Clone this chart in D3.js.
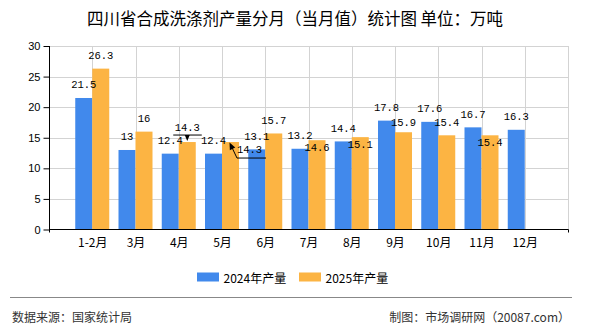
<!DOCTYPE html>
<html>
<head>
<meta charset="utf-8">
<script src="https://cdn.jsdelivr.net/npm/d3@7/dist/d3.min.js"></script>
<style>
  html, body { margin: 0; padding: 0; background: #fff; }
  svg { display: block; }
</style>
</head>
<body>
<svg id="chart" width="590" height="330"></svg>
<script>
// ---- data ----
const months = ["1-2月", "3月", "4月", "5月", "6月", "7月", "8月", "9月", "10月", "11月", "12月"];
const seriesNames = ["2024年产量", "2025年产量"];
const values2024 = [21.5, 13, 12.4, 12.4, 13.1, 13.2, 14.4, 17.8, 17.6, 16.7, 16.3];
const values2025 = [26.3, 16, 14.3, 14.3, 15.7, 14.6, 15.1, 15.9, 15.4, 15.4, null];
const yTicks = [0, 5, 10, 15, 20, 25, 30];
const titleText = "四川省合成洗涤剂产量分月（当月值）统计图 单位：万吨";
const sourceText = "数据来源：国家统计局";
const creditText = "制图：市场调研网（20087.com）";

// ---- layout ----
const colors = ["#4189EC", "#FCB443"];
const svg = d3.select("#chart");
const pLeft = 49, pRight = 568, pTop = 46, pBottom = 229.5;
const barW = 17;
const cjk = "'Noto Sans CJK SC', 'Liberation Sans', sans-serif";
const numFont = "'Liberation Sans', Arial, sans-serif";
const monoFont = "'Liberation Mono', 'DejaVu Sans Mono', monospace";

const x = d3.scalePoint().domain(months).range([pLeft, pRight]).padding(1);
const y = d3.scaleLinear().domain([0, 30]).range([pBottom, pTop]);
const xs = d3.scaleOrdinal().domain(seriesNames).range([-barW, 0]);

// title
svg.append("text").attr("x", 295).attr("y", 18)
  .attr("text-anchor", "middle").attr("dominant-baseline", "central")
  .style("font-family", cjk).style("font-size", "16.5px").attr("fill", "#000")
  .attr("xml:space", "preserve")
  .text(titleText);

// gridlines
const grid = svg.append("g").attr("stroke", "#d3d3d3").attr("stroke-width", 1);
yTicks.filter(t => t > 0).forEach(t => {
  grid.append("line").attr("x1", pLeft).attr("x2", pRight)
    .attr("y1", Math.round(y(t)) + 0.5).attr("y2", Math.round(y(t)) + 0.5);
});
months.forEach(m => {
  grid.append("line").attr("x1", Math.round(x(m)) + 0.5).attr("x2", Math.round(x(m)) + 0.5)
    .attr("y1", pTop).attr("y2", pBottom);
});
grid.append("line").attr("x1", pRight + 0.5).attr("x2", pRight + 0.5).attr("y1", pTop).attr("y2", pBottom);

// bars
const data = [values2024, values2025];
data.forEach((vals, si) => {
  svg.append("g").selectAll("rect")
    .data(months.map((m, i) => ({ m, v: vals[i] })).filter(d => d.v != null))
    .join("rect")
    .attr("x", d => x(d.m) + xs(seriesNames[si]))
    .attr("y", d => y(d.v))
    .attr("width", barW)
    .attr("height", d => y(0) - y(d.v))
    .attr("fill", colors[si]);
});

// axes
const yAxis = d3.axisLeft(y).tickValues(yTicks).tickSize(6).tickPadding(3);
const gy = svg.append("g").attr("transform", `translate(${pLeft + 0.5},0)`).call(yAxis);
gy.select(".domain").attr("d", `M0,${pTop}V${pBottom + 3}`).attr("stroke", "#000");
gy.selectAll(".tick line").attr("stroke", "#000");
gy.selectAll(".tick text").style("font-family", numFont).style("font-size", "11px").attr("fill", "#000");

const xAxis = d3.axisBottom(x).tickSize(0).tickPadding(9);
const gx = svg.append("g").attr("transform", `translate(0,${pBottom})`).call(xAxis);
gx.select(".domain").attr("d", `M${pLeft},0H${pRight + 0.5}`).attr("stroke", "#000");
gx.selectAll(".tick text").style("font-family", cjk).style("font-size", "12px").attr("fill", "#000");
gx.append("line").attr("x1", pRight + 0.5).attr("x2", pRight + 0.5).attr("y1", 0).attr("y2", 3).attr("stroke", "#000");

// value labels
const nudges = { // series index|month index -> {dx, dy} relative to default placement
  "1|5": { dy: 20.5 }, "1|6": { dy: 20.5 }, "1|9": { dy: 20.5 }, "1|7": { dy: 3.5 },
  "1|2": { dy: -1.5 }, "1|3": { dx: 19, dy: 20 }
};
const labels = svg.append("g").style("font-family", monoFont).style("font-size", "10.5px")
  .attr("fill", "#000").attr("text-anchor", "middle").attr("dominant-baseline", "central");
data.forEach((vals, si) => {
  vals.forEach((v, i) => {
    if (v == null) return;
    const n = nudges[si + "|" + i] || {};
    const cx = x(months[i]) + xs(seriesNames[si]) + barW / 2 + (n.dx || 0);
    const cy = y(v) - 12.5 + (n.dy || 0);
    labels.append("text").attr("x", cx).attr("y", cy).text(String(v));
  });
});

// annotation for 4月 2025 label (underline + down marker)
{
  const i = 2, v = values2025[i];
  const cx = x(months[i]) + barW / 2;
  const ly = y(v) - 7;
  svg.append("line").attr("x1", cx - 14).attr("x2", cx + 14.5).attr("y1", ly).attr("y2", ly)
    .attr("stroke", "#000").attr("stroke-width", 1);
  svg.append("path").attr("d", `M${cx - 2.5},${ly}L${cx + 2.5},${ly}L${cx},${ly + 6}Z`).attr("fill", "#000");
}
// annotation for 5月 2025 label (leader with arrow)
{
  const i = 3, v = values2025[i];
  const cx = x(months[i]) + barW / 2;
  const by = y(v);
  const hy = by + 16;
  const tipX = cx - 1, tipY = by + 0.5;
  const kx = cx + 6.5;
  svg.append("path").attr("d", `M${cx + 35.5},${hy}H${kx}L${tipX + 2},${tipY + 4}`)
    .attr("fill", "none").attr("stroke", "#000").attr("stroke-width", 1);
  const ang = Math.atan2(tipY - hy, tipX - kx);
  const L = 7, W = 3;
  const bx = tipX - L * Math.cos(ang), byy = tipY - L * Math.sin(ang);
  const px = -Math.sin(ang) * W, py = Math.cos(ang) * W;
  svg.append("path").attr("d", `M${tipX},${tipY}L${bx + px},${byy + py}L${bx - px},${byy - py}Z`).attr("fill", "#000");
}

// legend
const legendX = [197, 299];
seriesNames.forEach((s, si) => {
  svg.append("rect").attr("x", legendX[si]).attr("y", 272.5).attr("width", 22).attr("height", 9).attr("fill", colors[si]);
  svg.append("text").attr("x", legendX[si] + 26.5).attr("y", 277).attr("dominant-baseline", "central")
    .style("font-family", cjk).style("font-size", "12px").attr("fill", "#000").text(s);
});

// footer
svg.append("line").attr("x1", 10).attr("x2", 572).attr("y1", 297.5).attr("y2", 297.5)
  .attr("stroke", "#888").attr("stroke-width", 1.2);
svg.append("text").attr("x", 12).attr("y", 316).attr("dominant-baseline", "central")
  .style("font-family", cjk).style("font-size", "12px").attr("fill", "#333").text(sourceText);
svg.append("text").attr("x", 570).attr("y", 316).attr("dominant-baseline", "central").attr("text-anchor", "end")
  .style("font-family", cjk).style("font-size", "12px").attr("fill", "#333").text(creditText);
</script>
</body>
</html>
